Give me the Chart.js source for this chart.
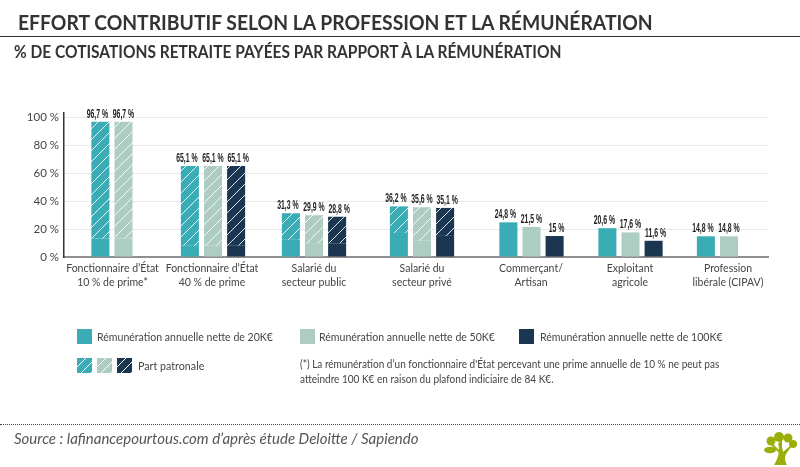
<!DOCTYPE html>
<html lang="fr">
<head>
<meta charset="utf-8">
<title>Effort contributif</title>
<script src="https://cdn.jsdelivr.net/npm/chart.js@4"></script>
<style>
  html, body { margin: 0; padding: 0; background: #fff; }
  #page { position: relative; width: 800px; height: 467px; overflow: hidden; font-family: Lato, sans-serif; color: #444; }
  #page canvas { position: absolute; left: 0; top: 0; }
  .txt { position: absolute; white-space: nowrap; transform-origin: left top; }
  .sw { position: absolute; width: 15px; height: 15px; }
  .hatch { background-image: repeating-linear-gradient(135deg, transparent 0 6px, #fff 6px 7px); }
  h1, h2 { margin: 0; font-weight: 700; }
</style>
</head>
<body>
<div id="page">
  <canvas id="chart" width="800" height="467"></canvas>

  <h1 class="txt" style="left:18px;top:9px;font-size:21.5px;line-height:26px;color:#333;transform:scaleX(0.898)">EFFORT CONTRIBUTIF SELON LA PROFESSION ET LA RÉMUNÉRATION</h1>
  <div style="position:absolute;left:0;top:36px;width:800px;height:1px;background:#333"></div>
  <h2 class="txt" style="left:14px;top:42px;font-size:16.5px;line-height:20px;color:#333;transform:scaleX(0.94)">% DE COTISATIONS RETRAITE PAYÉES PAR RAPPORT À LA RÉMUNÉRATION</h2>

  <div class="sw" style="left:77px;top:329px;background:#3aacb5"></div>
  <div class="txt" style="left:97px;top:330px;font-size:11.5px;transform:scaleX(0.917)">Rémunération annuelle nette de 20K€</div>
  <div class="sw" style="left:300px;top:329px;background:#aecdc2"></div>
  <div class="txt" style="left:319px;top:330px;font-size:11.5px;transform:scaleX(0.917)">Rémunération annuelle nette de 50K€</div>
  <div class="sw" style="left:519px;top:329px;background:#1b3650"></div>
  <div class="txt" style="left:540px;top:330px;font-size:11.5px;transform:scaleX(0.92)">Rémunération annuelle nette de 100K€</div>

  <div class="sw hatch" style="left:77px;top:358px;background-color:#3aacb5"></div>
  <div class="sw hatch" style="left:97px;top:358px;background-color:#aecdc2"></div>
  <div class="sw hatch" style="left:117px;top:358px;background-color:#1b3650"></div>
  <div class="txt" style="left:138px;top:359px;font-size:11.5px;transform:scaleX(0.93)">Part patronale</div>

  <div class="txt" style="left:300px;top:357px;font-size:10.5px;line-height:15px;transform:scaleX(0.955)">(*) La rémunération d’un fonctionnaire d'État percevant une prime annuelle de 10 % ne peut pas<br>atteindre 100 K€ en raison du plafond indiciaire de 84 K€.</div>

  <div style="position:absolute;left:0;top:424px;width:800px;border-top:1.5px dotted #444"></div>
  <div class="txt" style="left:14px;top:429px;font-size:15px;font-style:italic;color:#555">Source : lafinancepourtous.com d’après étude Deloitte / Sapiendo</div>

  <svg style="position:absolute;left:762px;top:430px" width="36" height="36" viewBox="0 0 36 36">
    <g fill="#9cae0c">
      <path d="M12 35 C17 27 18 20 16 13 L19 13 C20 18 21 20 21 22 C24 19 27 17 29 15 L30 16 C27 20 23 24 23 28 C23 31 24 33 25 35 Z"/>
      <circle cx="17" cy="7" r="5"/>
      <circle cx="9" cy="11" r="4.5"/>
      <circle cx="26" cy="8" r="4.5"/>
      <circle cx="31" cy="14" r="4"/>
      <ellipse cx="8" cy="20" rx="6" ry="3.2"/>
      <path d="M9 12 L19 22 L18 24 L8 14 Z"/>
      <path d="M17 8 L20 8 L20 20 L18 20 Z"/>
    </g>
  </svg>
</div>

<script>
const categories = [
    ['Fonctionnaire d’État', '10 % de prime*'],
    ['Fonctionnaire d’État', '40 % de prime'],
    ['Salarié du', 'secteur public'],
    ['Salarié du', 'secteur privé'],
    ['Commerçant/', 'Artisan'],
    ['Exploitant', 'agricole'],
    ['Profession', 'libérale (CIPAV)']
];
const total20k = [96.7, 65.1, 31.3, 36.2, 24.8, 20.6, 14.8];
const total50k = [96.7, 65.1, 29.9, 35.6, 21.5, 17.6, 14.8];
const total100k = [null, 65.1, 28.8, 35.1, 15, 11.6, null];
const patron20k = [83.5, 57, 19, 19, 0, 0, 0];
const patron50k = [83.5, 57, 20, 24, 0, 0, 0];
const patron100k = [null, 57, 19, 20, 0, 0, null];
const yTicks = [0, 20, 40, 60, 80, 100];

const TEAL = '#3aacb5', SAGE = '#aecdc2', NAVY = '#1b3650';

// the groups are not evenly spaced in the picture
const groupCentres = [123.5, 213, 314, 422, 531.5, 630.5, 729];
const labelCentres = [112.5, 212, 314, 422, 531, 630, 728];

class PlacedCategoryScale extends Chart.CategoryScale {
    getPixelForValue(value) {
        return groupCentres[typeof value === 'number' ? value : this.parse(value)];
    }
    getPixelForTick(index) {
        return labelCentres[index];
    }
}
PlacedCategoryScale.id = 'placedCategory';
PlacedCategoryScale.defaults = Chart.CategoryScale.defaults;
Chart.register(PlacedCategoryScale);

function hatch(color) {
    const tile = document.createElement('canvas');
    tile.width = tile.height = 11;
    const c = tile.getContext('2d');
    c.fillStyle = color;
    c.fillRect(0, 0, 11, 11);
    c.strokeStyle = 'rgba(255,255,255,0.85)';
    c.lineWidth = 1;
    c.beginPath();
    c.moveTo(-1, 12);
    c.lineTo(12, -1);
    c.stroke();
    return c.createPattern(tile, 'repeat');
}

function pair(name, totals, patron, color, nudge) {
    const base = totals.map((t, i) => t === null ? null : t - patron[i]);
    return [
        { label: name, data: base, stack: name, backgroundColor: color, totals: totals, nudge: nudge },
        { label: name + ' patronale', data: patron, stack: name, backgroundColor: hatch(color) }
    ];
}

const barLabels = {
    id: 'barLabels',
    afterDatasetsDraw(chart) {
        const c = chart.ctx, y = chart.scales.y;
        c.font = 'bold 13px "Liberation Sans", sans-serif';
        c.fillStyle = '#222';
        c.textAlign = 'center';
        c.textBaseline = 'bottom';
        chart.data.datasets.forEach((ds, d) => {
            if (!ds.totals) return;
            chart.getDatasetMeta(d).data.forEach((bar, i) => {
                if (ds.totals[i] === null) return;
                const text = String(ds.totals[i]).replace('.', ',') + ' %';
                // no condensed font here, so squeeze it
                c.save();
                c.translate(bar.x + ds.nudge, y.getPixelForValue(ds.totals[i]) - 1);
                c.scale(0.53, 1);
                c.fillText(text, 0, 0);
                c.restore();
            });
        });
    }
};

new Chart(document.getElementById('chart').getContext('2d'), {
    type: 'bar',
    plugins: [barLabels],
    data: {
        labels: categories,
        datasets: [
            ...pair('20K', total20k, patron20k, TEAL, -3),
            ...pair('50K', total50k, patron50k, SAGE, 0),
            ...pair('100K', total100k, patron100k, NAVY, 2)
        ]
    },
    options: {
        responsive: false,
        animation: false,
        devicePixelRatio: 1,
        categoryPercentage: 0.775,
        barPercentage: 0.78,
        layout: { padding: { left: 0, right: 32, top: 113, bottom: 0 } },
        plugins: { legend: { display: false }, title: { display: false }, tooltip: { enabled: false } },
        scales: {
            x: {
                type: 'placedCategory',
                stacked: true,
                afterFit: s => { s.height = 210; s.paddingLeft = 0; s.paddingRight = 0; },
                grid: { display: false },
                border: { color: '#8f8f8f', width: 2 },
                ticks: {
                    autoSkip: false,
                    maxRotation: 0,
                    padding: -3,
                    color: '#444',
                    font: { family: 'Lato', size: 10.5, lineHeight: 1.3 }
                }
            },
            y: {
                stacked: true,
                min: 0,
                max: 103,
                afterFit: s => { s.width = 64; },
                grid: { color: '#e9e9e9', lineWidth: 1, drawTicks: false },
                border: { color: '#333', width: 1.5 },
                ticks: {
                    stepSize: 10,
                    includeBounds: false,
                    padding: 5,
                    color: '#444',
                    font: { family: 'Lato', size: 11.5 },
                    callback: v => yTicks.includes(v) ? v + ' %' : ''
                }
            }
        }
    }
});
</script>
</body>
</html>
